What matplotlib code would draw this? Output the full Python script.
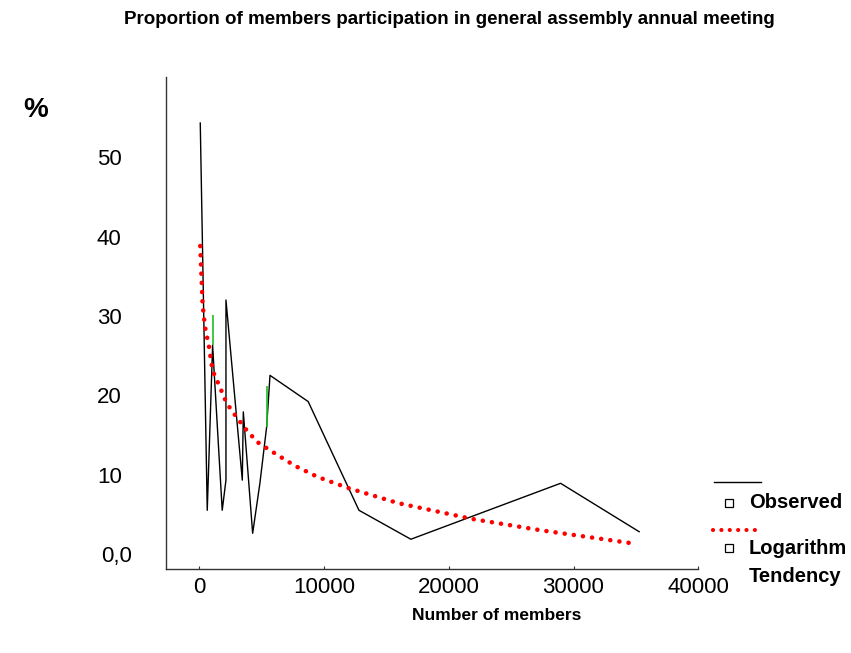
import matplotlib.pyplot as plt
from matplotlib.lines import Line2D
from matplotlib.patches import Rectangle
from matplotlib.transforms import ScaledTranslation

plt.rcParams['font.family'] = ['Liberation Sans', 'DejaVu Sans']

# observed participation (%) vs number of members
members = [80, 640, 1070, 1840, 2140, 2140, 3450, 3530, 4280, 4860, 5400, 5670,
           8730, 12800, 16960, 28960, 35260]
participation = [54.3, 5.5, 26.3, 5.5, 9.3, 32.0, 9.3, 17.9, 2.6, 8.9, 16.0, 22.5,
                 19.2, 5.5, 1.85, 8.9, 2.8]

# short green pieces seen on the observed line
green_members = [1070, 5400]
green_low = [26.3, 16.0]
green_high = [30.1, 21.1]

# logarithmic tendency
trend_members = [80, 190, 270, 460, 780, 1070, 1660, 2190, 3000, 3740, 4650, 5930,
                 7670, 9490, 11940, 15950, 21900, 27300, 34650]
trend_pct = [38.8, 34.5, 31.4, 28.6, 26.1, 23.1, 21.0, 19.0, 17.2, 15.7, 14.1, 12.8,
             11.1, 9.7, 8.3, 6.4, 4.4, 3.0, 1.35]

xticks = [0, 10000, 20000, 30000, 40000]
yticks = [0, 10, 20, 30, 40, 50]
ylabels = ['0,0', '10', '20', '30', '40', '50']

W, H = 851, 653
dots = (0, (0.01, 2.0))
fig = plt.figure(figsize=(W / 100, H / 100), dpi=100)
ax = fig.add_axes([165.7 / W, 1 - 569 / H, (698.3 - 165.7) / W, (569 - 77) / H])

ax.plot(members, participation, color='black', lw=1.0)
ax.vlines(green_members, green_low, green_high, color='#1fbf1f', lw=1.2)
ax.plot(trend_members, trend_pct, color='red', lw=3.3, linestyle=dots,
        dash_capstyle='round')

ax.set_xlim(-2690, 40000)
ax.set_ylim(-1.9, 60.1)

for s in ['top', 'right']:
    ax.spines[s].set_visible(False)
for s in ['left', 'bottom']:
    ax.spines[s].set_color('#333333')
    ax.spines[s].set_linewidth(1.0)

ax.set_xticks(xticks)
ax.set_xticklabels([str(t) for t in xticks])
ax.tick_params(axis='x', direction='in', length=2.5, width=0.8, pad=5.5,
               labelsize=16, colors='#333333', labelcolor='black')
ax.set_yticks(yticks)
ax.set_yticklabels(ylabels)
ax.tick_params(axis='y', length=0, pad=31.7, labelsize=16)

# the 0,0 label sits a bit more to the right
lab0 = ax.get_yticklabels()[0]
lab0.set_transform(lab0.get_transform() + ScaledTranslation(10 / 100, 0, fig.dpi_scale_trans))

fig.text(449.5 / W, 1 - 20 / H,
         'Proportion of members participation in general assembly annual meeting',
         ha='center', va='center', fontsize=13.5, fontweight='bold')
fig.text(36 / W, 1 - 110 / H, '%', ha='center', va='center', fontsize=20, fontweight='bold')
fig.text(497 / W, 1 - 615 / H, 'Number of members', ha='center', va='center',
         fontsize=12.5, fontweight='bold')

# legend drawn by hand
fig.add_artist(Line2D([714 / W, 761 / W], [1 - 481.5 / H, 1 - 481.5 / H],
                      color='black', lw=1.0))
fig.add_artist(Line2D([713 / W, 758 / W], [1 - 530 / H, 1 - 530 / H],
                      color='red', lw=3.0, linestyle=dots, dash_capstyle='round'))
for yy in [502.5, 548]:
    fig.add_artist(Rectangle(((729 - 4) / W, 1 - (yy + 4) / H), 8 / W, 8 / H,
                             facecolor='white', edgecolor='black', lw=0.9,
                             transform=fig.transFigure))
fig.text(749 / W, 1 - 502.5 / H, 'Observed', ha='left', va='center',
         fontsize=14.5, fontweight='bold')
fig.text(749 / W, 1 - 548 / H, 'Logarithm', ha='left', va='center',
         fontsize=14.5, fontweight='bold')
fig.text(749 / W, 1 - 577 / H, 'Tendency', ha='left', va='center',
         fontsize=14.5, fontweight='bold')

fig.savefig('out.png', dpi=100)
